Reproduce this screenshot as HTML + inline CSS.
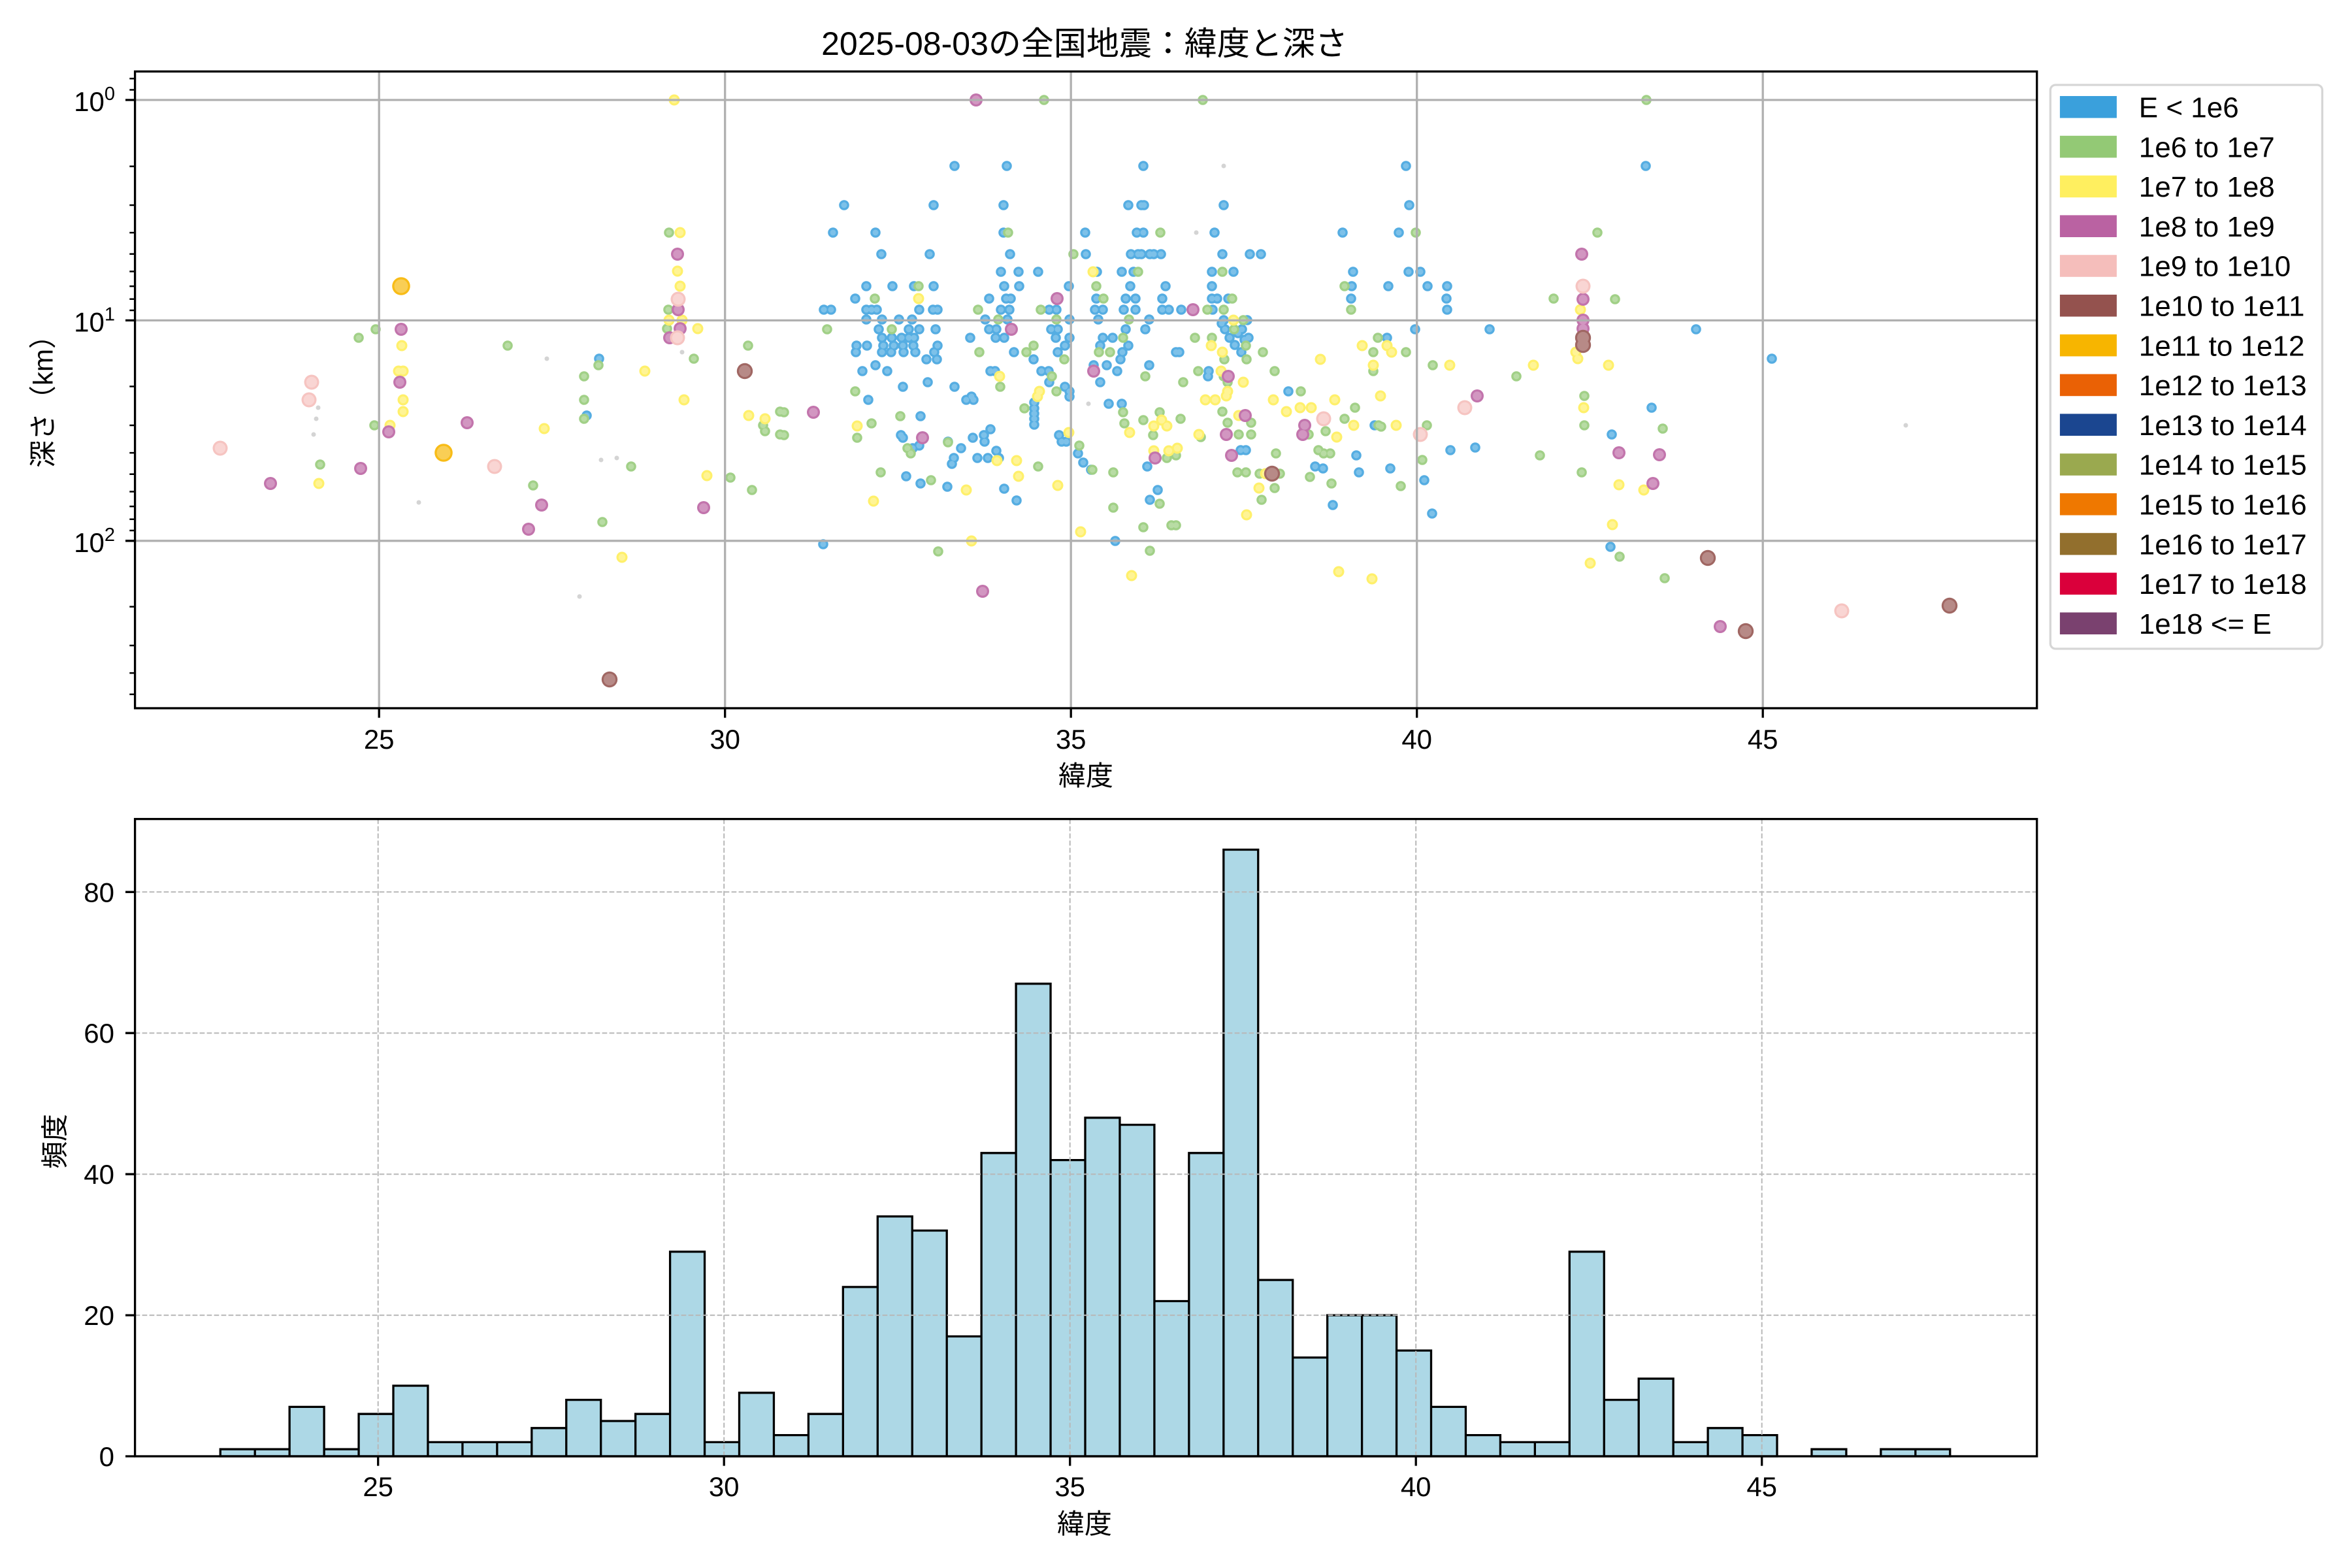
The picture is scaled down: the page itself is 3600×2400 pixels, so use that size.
<!DOCTYPE html>
<html><head><meta charset="utf-8">
<style>
html,body{margin:0;padding:0;background:#fff;}
svg{display:block;}
text{font-family:"Liberation Sans","Noto Sans CJK JP",sans-serif;fill:#000;}
.d{fill:none;stroke-linecap:round;}
</style></head>
<body>
<svg width="3600" height="2400" viewBox="0 0 3600 2400" xmlns="http://www.w3.org/2000/svg" xmlns:xlink="http://www.w3.org/1999/xlink">
<rect width="3600" height="2400" fill="#fff"/>
<text x="1660" y="84" font-size="50" text-anchor="middle">2025-08-03の全国地震：緯度と深さ</text>

<defs>
<clipPath id="c1"><rect x="206.6" y="109.4" width="2911.1" height="974.6"/></clipPath>
<path id="bp" d="M917 549h0M898 636h0M1461 254h0M1541 254h0M1750 254h0M1292 314h0M1429 314h0M1536 314h0M1727 314h0M1747 314h0M1751 314h0M1275 356h0M1340 356h0M1536 356h0M1661 356h0M1740 356h0M1750 356h0M1349 389h0M1423 389h0M1546 389h0M1662 389h0M1731 389h0M1742 389h0M1747 389h0M1760 389h0M1766 389h0M1777 389h0M1532 416h0M1559 416h0M1589 416h0M1679 416h0M1717 416h0M1735 416h0M1326 438h0M1366 438h0M1399 438h0M1429 438h0M1537 438h0M1560 438h0M1636 438h0M1730 438h0M1784 438h0M1309 457h0M1514 457h0M1540 457h0M1547 457h0M1678 457h0M1723 457h0M1738 457h0M1779 457h0M1261 474h0M1272 474h0M1326 474h0M1334 474h0M1342 474h0M1407 474h0M1428 474h0M1435 474h0M1532 474h0M1545 474h0M1606 474h0M1617 474h0M1676 474h0M1688 474h0M1720 474h0M1738 474h0M1779 474h0M1789 474h0M1326 489h0M1350 489h0M1376 489h0M1396 489h0M1508 489h0M1542 489h0M1637 489h0M1681 489h0M1759 489h0M1345 504h0M1391 504h0M1407 504h0M1432 504h0M1514 504h0M1525 504h0M1609 504h0M1619 504h0M1723 504h0M1753 504h0M1350 517h0M1365 517h0M1380 517h0M1391 517h0M1399 517h0M1485 517h0M1524 517h0M1537 517h0M1616 517h0M1637 517h0M1688 517h0M1703 517h0M1311 529h0M1327 529h0M1352 529h0M1368 529h0M1382 529h0M1398 529h0M1435 529h0M1630 529h0M1684 529h0M1727 529h0M1310 539h0M1350 539h0M1364 539h0M1383 539h0M1401 539h0M1430 539h0M1552 539h0M1619 539h0M1718 539h0M1800 539h0M1418 550h0M1434 550h0M1582 550h0M1715 550h0M1340 559h0M1674 559h0M1694 559h0M1759 559h0M1320 568h0M1358 568h0M1516 568h0M1523 568h0M1594 568h0M1605 568h0M1710 568h0M1420 585h0M1606 585h0M1684 585h0M1382 592h0M1461 592h0M1630 592h0M1637 599h0M1487 607h0M1637 607h0M1329 612h0M1479 612h0M1490 612h0M1697 618h0M1717 618h0M1583 616h0M1583 625h0M1583 633h0M1583 641h0M1583 650h0M1409 637h0M1516 657h0M1379 666h0M1506 666h0M1621 666h0M1489 670h0M1382 670h0M1451 676h0M1507 676h0M1625 676h0M1632 676h0M1407 682h0M1471 686h0M1397 686h0M1525 690h0M1650 694h0M1496 701h0M1460 701h0M1512 701h0M1529 701h0M1658 708h0M1457 710h0M1756 714h0M1670 719h0M1387 729h0M1409 740h0M1450 745h0M1537 748h0M1772 750h0M1760 765h0M1556 766h0M1707 828h0M1260 833h0M1873 314h0M2152 254h0M2157 314h0M1859 356h0M2055 356h0M2141 356h0M1871 389h0M1913 389h0M1930 389h0M1855 416h0M1888 416h0M2071 416h0M2156 416h0M2174 416h0M1855 438h0M2069 438h0M2125 438h0M2185 438h0M2215 438h0M1855 457h0M1863 457h0M1880 457h0M2068 457h0M2214 457h0M1808 474h0M1856 474h0M2215 474h0M1873 490h0M1909 490h0M1870 495h0M1875 504h0M1901 504h0M2166 504h0M2280 504h0M1895 510h0M1882 517h0M1911 517h0M2123 517h0M1905 520h0M1890 528h0M1805 539h0M1900 539h0M1850 568h0M1849 576h0M1972 599h0M2104 651h0M2258 685h0M1899 689h0M1907 689h0M2220 689h0M2076 697h0M2013 714h0M2025 717h0M2128 717h0M2080 723h0M2180 735h0M2040 773h0M2192 786h0M2519 254h0M2596 504h0M2712 549h0M2528 624h0M2467 665h0M2465 837h0"/>
<path id="gp" d="M1024 356h0M1023 474h0M1021 503h0M549 517h0M575 504h0M573 651h0M490 711h0M777 529h0M816 743h0M894 576h0M916 559h0M894 612h0M894 641h0M966 714h0M922 799h0M1062 549h0M1145 529h0M1168 651h0M1171 660h0M1194 630h0M1194 665h0M1118 731h0M1151 750h0M1598 153h0M1543 356h0M1776 356h0M1643 389h0M1742 416h0M1406 438h0M1678 438h0M1339 457h0M1689 457h0M1497 474h0M1593 474h0M1528 489h0M1617 489h0M1728 489h0M1266 504h0M1365 504h0M1719 517h0M1582 529h0M1499 539h0M1571 539h0M1682 539h0M1699 539h0M1629 550h0M1610 576h0M1753 576h0M1531 592h0M1309 599h0M1617 599h0M1568 625h0M1200 631h0M1719 631h0M1775 631h0M1378 637h0M1750 643h0M1334 648h0M1721 648h0M1200 666h0M1765 666h0M1312 670h0M1451 677h0M1652 682h0M1389 686h0M1394 694h0M1786 701h0M1589 714h0M1672 719h0M1348 723h0M1704 723h0M1425 735h0M1775 771h0M1704 777h0M1793 804h0M1750 807h0M1760 843h0M1436 844h0M1841 153h0M2167 356h0M1871 416h0M2058 438h0M1886 457h0M2378 457h0M1848 474h0M1873 474h0M2068 474h0M1903 490h0M1889 504h0M1829 517h0M1855 517h0M2109 517h0M1907 529h0M1933 539h0M2102 539h0M2152 539h0M1874 550h0M1908 550h0M2102 559h0M2193 559h0M1834 568h0M1951 568h0M2102 568h0M1873 576h0M2321 576h0M1811 585h0M1879 585h0M1991 599h0M2074 624h0M1871 630h0M1807 641h0M2058 641h0M1915 647h0M1879 647h0M2110 651h0M2114 653h0M2184 651h0M2029 660h0M1896 665h0M1915 665h0M2003 665h0M1838 669h0M2018 689h0M1953 694h0M2026 694h0M2036 694h0M2357 697h0M1800 697h0M2177 704h0M1894 723h0M1907 723h0M1928 725h0M1959 725h0M2005 730h0M2038 740h0M2144 744h0M1951 747h0M1931 765h0M1800 804h0M2520 153h0M2445 356h0M2472 458h0M2424 528h0M2425 606h0M2425 651h0M2545 656h0M2421 723h0M2479 852h0M2548 885h0"/>
<path id="yp" d="M1032 153h0M1041 356h0M1037 415h0M1041 438h0M1037 458h0M1024 490h0M1044 490h0M1068 503h0M1047 612h0M615 529h0M610 568h0M617 568h0M617 612h0M617 630h0M597 651h0M488 740h0M833 656h0M952 853h0M987 568h0M1082 728h0M1146 636h0M1171 641h0M1673 416h0M1406 457h0M1530 576h0M1591 599h0M1588 607h0M1778 643h0M1312 652h0M1766 652h0M1786 652h0M1636 662h0M1729 662h0M1766 690h0M1789 690h0M1556 705h0M1526 705h0M1559 729h0M1619 743h0M1479 750h0M1337 767h0M1654 814h0M1487 828h0M1732 881h0M1888 490h0M1854 529h0M2085 529h0M2123 529h0M1871 539h0M2130 539h0M2021 550h0M2102 559h0M2219 559h0M2347 559h0M1869 568h0M1903 585h0M1879 599h0M1877 606h0M2113 606h0M1845 612h0M1860 612h0M1949 612h0M2043 612h0M1990 624h0M2007 624h0M1969 630h0M1896 636h0M2072 651h0M2137 651h0M1835 665h0M2046 669h0M1802 686h0M1937 725h0M1927 747h0M1908 788h0M2049 875h0M2100 886h0M2421 389h0M2423 438h0M2419 474h0M2412 539h0M2415 549h0M2462 559h0M2424 624h0M2478 742h0M2516 750h0M2468 803h0M2434 862h0"/>
<path id="pp" d="M1037 389h0M1038 474h0M1041 503h0M1025 517h0M614 504h0M612 585h0M595 661h0M414 740h0M552 717h0M715 647h0M829 773h0M809 810h0M1077 777h0M1494 153h0M1618 457h0M1548 504h0M1674 568h0M1245 631h0M1412 670h0M1768 701h0M1504 905h0M1826 474h0M1880 576h0M1906 636h0M2261 606h0M1997 651h0M1877 665h0M1994 665h0M1885 697h0M2421 389h0M2423 458h0M2423 490h0M2423 503h0M2478 693h0M2540 696h0M2530 740h0M2633 959h0"/>
<path id="kp" d="M1038 458h0M1037 517h0M477 585h0M473 612h0M337 686h0M757 714h0M2242 624h0M2026 641h0M2174 665h0M2423 438h0M2819 935h0"/>
<path id="rp" d="M933 1040h0M1140 568h0M1947 725h0M2423 517h0M2423 528h0M2614 854h0M2984 927h0M2672 966h0"/>
<path id="op" d="M614 438h0M679 693h0"/>
</defs>

<g clip-path="url(#c1)">
<path class="d" stroke="#d4d4d4" stroke-width="7" d="M487 624h0M484 641h0M480 665h0M641 769h0M837 549h0M920 704h0M944 701h0M887 913h0M1044 539h0M1041 415h0M1666 618h0M1873 254h0M1831 356h0M2917 651h0M1171 636h0"/>
<use href="#bp" xlink:href="#bp" class="d" stroke="#55ADE2" stroke-width="15.6"/>
<use href="#bp" xlink:href="#bp" class="d" stroke="#7DC1E9" stroke-width="9"/>
<use href="#gp" xlink:href="#gp" class="d" stroke="#A1D087" stroke-width="15.6"/>
<use href="#gp" xlink:href="#gp" class="d" stroke="#B8DCA4" stroke-width="9"/>
<use href="#yp" xlink:href="#yp" class="d" stroke="#FFF06B" stroke-width="17"/>
<use href="#yp" xlink:href="#yp" class="d" stroke="#FFF495" stroke-width="10.5"/>
<use href="#pp" xlink:href="#pp" class="d" stroke="#C274AC" stroke-width="20"/>
<use href="#pp" xlink:href="#pp" class="d" stroke="#D296C1" stroke-width="13.5"/>
<use href="#kp" xlink:href="#kp" class="d" stroke="#F6C4C1" stroke-width="23"/>
<use href="#kp" xlink:href="#kp" class="d" stroke="#F9D5D3" stroke-width="16.5"/>
<use href="#rp" xlink:href="#rp" class="d" stroke="#A06763" stroke-width="24.4"/>
<use href="#rp" xlink:href="#rp" class="d" stroke="#B78A87" stroke-width="18"/>
<use href="#op" xlink:href="#op" class="d" stroke="#F8BC17" stroke-width="27.6"/>
<use href="#op" xlink:href="#op" class="d" stroke="#F9CE55" stroke-width="21"/>
</g>

<path stroke="#b0b0b0" stroke-width="3.3" d="M580.2 109.4V1084M1109.7 109.4V1084M1639.2 109.4V1084M2168.7 109.4V1084M2698.2 109.4V1084M206.6 153H3117.7M206.6 490.4H3117.7M206.6 827.8H3117.7"/>
<path stroke="#000" stroke-width="3.3" d="M580.2 1084v14.6M1109.7 1084v14.6M1639.2 1084v14.6M2168.7 1084v14.6M2698.2 1084v14.6M192 153h14.6M192 490.4h14.6M192 827.8h14.6"/>
<path stroke="#000" stroke-width="2.5" d="M198.3 120.3h8.3M198.3 137.5h8.3M198.3 254.6h8.3M198.3 314h8.3M198.3 356.1h8.3M198.3 388.8h8.3M198.3 415.5h8.3M198.3 438.1h8.3M198.3 457.7h8.3M198.3 475h8.3M198.3 591.5h8.3M198.3 651h8.3M198.3 693.1h8.3M198.3 725.8h8.3M198.3 752.5h8.3M198.3 775.1h8.3M198.3 794.7h8.3M198.3 812h8.3M198.3 928.6h8.3M198.3 988h8.3M198.3 1030.1h8.3M198.3 1062.8h8.3"/>
<rect x="206.6" y="109.4" width="2911.1" height="974.6" fill="none" stroke="#000" stroke-width="3.3"/>
<g font-size="42" text-anchor="middle">
<text x="580.2" y="1146">25</text><text x="1109.7" y="1146">30</text><text x="1639.2" y="1146">35</text><text x="2168.7" y="1146">40</text><text x="2698.2" y="1146">45</text>
</g>
<g font-size="42" text-anchor="end">
<text x="176" y="170">10<tspan font-size="29" dy="-17">0</tspan></text>
<text x="176" y="507.4">10<tspan font-size="29" dy="-17">1</tspan></text>
<text x="176" y="844.8">10<tspan font-size="29" dy="-17">2</tspan></text>
</g>
<text x="1662" y="1202" font-size="42" text-anchor="middle">緯度</text>
<text transform="translate(66,604) rotate(-90)" font-size="42" text-anchor="middle" dominant-baseline="central">深さ（km）</text>

<rect x="3138.3" y="130" width="416.2" height="863" rx="8" ry="8" fill="#fff" stroke="#d6d6d6" stroke-width="3.3"/>
<rect x="3152.9" y="147" width="87" height="33.6" fill="#3AA0DC"/>
<rect x="3152.9" y="207.8" width="87" height="33.6" fill="#93C975"/>
<rect x="3152.9" y="268.6" width="87" height="33.6" fill="#FFEF5F"/>
<rect x="3152.9" y="329.4" width="87" height="33.6" fill="#BA62A2"/>
<rect x="3152.9" y="390.2" width="87" height="33.6" fill="#F5BEBB"/>
<rect x="3152.9" y="451" width="87" height="33.6" fill="#94524E"/>
<rect x="3152.9" y="511.8" width="87" height="33.6" fill="#F7B500"/>
<rect x="3152.9" y="572.6" width="87" height="33.6" fill="#EA6105"/>
<rect x="3152.9" y="633.4" width="87" height="33.6" fill="#1B4690"/>
<rect x="3152.9" y="694.2" width="87" height="33.6" fill="#9AA94F"/>
<rect x="3152.9" y="755" width="87" height="33.6" fill="#EF7800"/>
<rect x="3152.9" y="815.8" width="87" height="33.6" fill="#926F2D"/>
<rect x="3152.9" y="876.6" width="87" height="33.6" fill="#DA003B"/>
<rect x="3152.9" y="937.4" width="87" height="33.6" fill="#7A416F"/>
<g font-size="44">
<text x="3273.8" y="179.5">E &lt; 1e6</text>
<text x="3273.8" y="240.3">1e6 to 1e7</text>
<text x="3273.8" y="301.1">1e7 to 1e8</text>
<text x="3273.8" y="361.9">1e8 to 1e9</text>
<text x="3273.8" y="422.7">1e9 to 1e10</text>
<text x="3273.8" y="483.5">1e10 to 1e11</text>
<text x="3273.8" y="544.3">1e11 to 1e12</text>
<text x="3273.8" y="605.1">1e12 to 1e13</text>
<text x="3273.8" y="665.9">1e13 to 1e14</text>
<text x="3273.8" y="726.7">1e14 to 1e15</text>
<text x="3273.8" y="787.5">1e15 to 1e16</text>
<text x="3273.8" y="848.3">1e16 to 1e17</text>
<text x="3273.8" y="909.1">1e17 to 1e18</text>
<text x="3273.8" y="969.9">1e18 &lt;= E</text>
</g>

<path fill="#ADD8E6" stroke="#000" stroke-width="3.3" d="M337.25 2229V2218.2h52.95V2229zM390.2 2229V2218.2h52.95V2229zM443.15 2229V2153.4h52.95V2229zM496.1 2229V2218.2h52.95V2229zM549.05 2229V2164.2h52.95V2229zM602 2229V2121h52.95V2229zM654.95 2229V2207.4h52.95V2229zM707.9 2229V2207.4h52.95V2229zM760.85 2229V2207.4h52.95V2229zM813.8 2229V2185.8h52.95V2229zM866.75 2229V2142.6h52.95V2229zM919.7 2229V2175h52.95V2229zM972.65 2229V2164.2h52.95V2229zM1025.6 2229V1915.9h52.95V2229zM1078.55 2229V2207.4h52.95V2229zM1131.5 2229V2131.8h52.95V2229zM1184.45 2229V2196.6h52.95V2229zM1237.4 2229V2164.2h52.95V2229zM1290.35 2229V1969.9h52.95V2229zM1343.3 2229V1861.9h52.95V2229zM1396.25 2229V1883.5h52.95V2229zM1449.2 2229V2045.5h52.95V2229zM1502.15 2229V1764.8h52.95V2229zM1555.1 2229V1505.7h52.95V2229zM1608.05 2229V1775.6h52.95V2229zM1661 2229V1710.8h52.95V2229zM1713.95 2229V1721.6h52.95V2229zM1766.9 2229V1991.5h52.95V2229zM1819.85 2229V1764.8h52.95V2229zM1872.8 2229V1300.5h52.95V2229zM1925.75 2229V1959.1h52.95V2229zM1978.7 2229V2077.9h52.95V2229zM2031.65 2229V2013.1h52.95V2229zM2084.6 2229V2013.1h52.95V2229zM2137.55 2229V2067.1h52.95V2229zM2190.5 2229V2153.4h52.95V2229zM2243.45 2229V2196.6h52.95V2229zM2296.4 2229V2207.4h52.95V2229zM2349.35 2229V2207.4h52.95V2229zM2402.3 2229V1915.9h52.95V2229zM2455.25 2229V2142.6h52.95V2229zM2508.2 2229V2110.2h52.95V2229zM2561.15 2229V2207.4h52.95V2229zM2614.1 2229V2185.8h52.95V2229zM2667.05 2229V2196.6h52.95V2229zM2772.95 2229V2218.2h52.95V2229zM2878.85 2229V2218.2h52.95V2229zM2931.8 2229V2218.2h52.95V2229z"/>
<path stroke="#b8b8b8" stroke-width="2" stroke-dasharray="7.7 3.3" d="M578.7 1253.6V2229M1108.2 1253.6V2229M1637.7 1253.6V2229M2167.2 1253.6V2229M2696.7 1253.6V2229M206.6 1365.3H3117.7M206.6 1581.2H3117.7M206.6 1797.2H3117.7M206.6 2013.1H3117.7"/>
<path stroke="#000" stroke-width="3.3" d="M578.7 2229v14.6M1108.2 2229v14.6M1637.7 2229v14.6M2167.2 2229v14.6M2696.7 2229v14.6M192 1365.3h14.6M192 1581.2h14.6M192 1797.2h14.6M192 2013.1h14.6M192 2229h14.6"/>
<rect x="206.6" y="1253.6" width="2911.1" height="975.4" fill="none" stroke="#000" stroke-width="3.3"/>
<g font-size="42" text-anchor="middle">
<text x="578.7" y="2290">25</text><text x="1108.2" y="2290">30</text><text x="1637.7" y="2290">35</text><text x="2167.2" y="2290">40</text><text x="2696.7" y="2290">45</text>
</g>
<g font-size="42" text-anchor="end">
<text x="175" y="1380.3">80</text><text x="175" y="1596.2">60</text><text x="175" y="1812.2">40</text><text x="175" y="2028.1">20</text><text x="175" y="2244">0</text>
</g>
<text x="1660" y="2347" font-size="42" text-anchor="middle">緯度</text>
<text transform="translate(84,1747) rotate(-90)" font-size="42" text-anchor="middle" dominant-baseline="central">頻度</text>
</svg>
</body></html>
